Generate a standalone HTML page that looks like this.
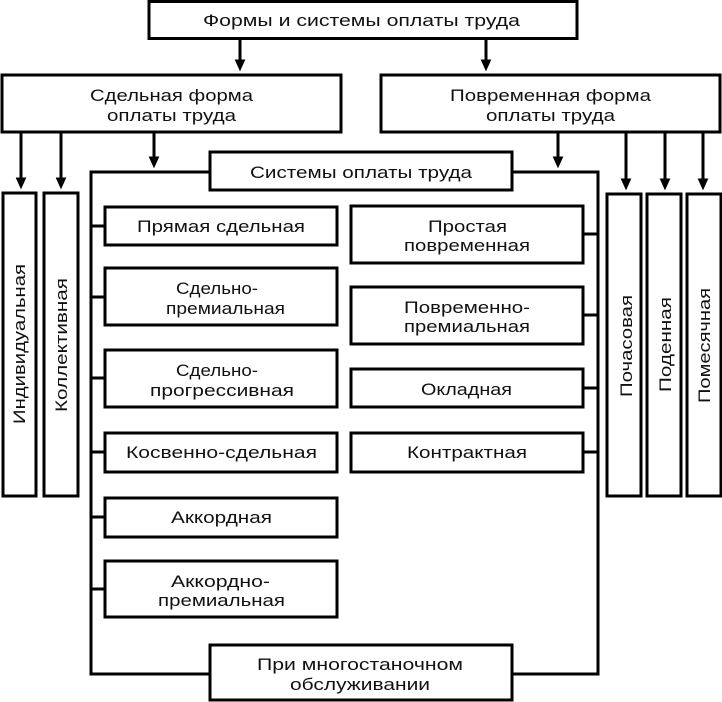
<!DOCTYPE html>
<html><head><meta charset="utf-8"><style>
html,body{margin:0;padding:0;background:#fff}
svg{display:block}
text{font-family:"Liberation Sans",sans-serif;font-size:17px;fill:#111}
</style></head><body>
<svg width="722" height="702" viewBox="0 0 722 702" xmlns="http://www.w3.org/2000/svg">
<defs>
<marker id="a" markerWidth="4" markerHeight="4" refX="2.2" refY="2" orient="auto" markerUnits="strokeWidth">
<path d="M0,0.2 L4,2 L0,3.8 z" fill="#000"/></marker>
</defs>
<g fill="none" stroke="#000" stroke-width="3">
<rect x="149" y="1.5" width="428" height="37"/>
<rect x="2" y="75" width="339" height="57"/>
<rect x="381" y="75" width="339" height="57"/>
<rect x="210" y="152" width="302" height="38"/>
<!-- container lines -->
<polyline points="210,172 91,172 91,674 210,674"/>
<polyline points="512,172 598,172 598,674 512,674"/>
<rect x="210" y="645" width="302" height="55"/>
<!-- vertical side boxes -->
<rect x="3" y="193" width="33" height="303"/>
<rect x="44" y="193" width="34" height="303"/>
<rect x="607" y="194" width="34" height="302"/>
<rect x="647" y="194" width="34" height="302"/>
<rect x="687" y="194" width="34" height="302"/>
<!-- left column -->
<rect x="105" y="207" width="232" height="38"/>
<rect x="105" y="268" width="232" height="57"/>
<rect x="105" y="350" width="232" height="57"/>
<rect x="105" y="433" width="232" height="39"/>
<rect x="105" y="498" width="232" height="39"/>
<rect x="105" y="561" width="232" height="56"/>
<!-- right column -->
<rect x="351" y="206" width="232" height="57"/>
<rect x="351" y="287" width="232" height="57"/>
<rect x="351" y="369" width="232" height="38"/>
<rect x="351" y="433" width="232" height="39"/>
<!-- stubs -->
<path d="M91,226H105M91,297H105M91,378H105M91,452H105M91,517H105M91,589H105"/>
<path d="M583,234H598M583,315H598M583,388H598M583,452H598"/>
</g>
<g stroke="#000" stroke-width="3" marker-end="url(#a)">
<line x1="240" y1="38" x2="240" y2="66"/>
<line x1="486" y1="38" x2="486" y2="66"/>
<line x1="21" y1="132" x2="21" y2="184"/>
<line x1="61" y1="132" x2="61" y2="184"/>
<line x1="154" y1="132" x2="154" y2="163"/>
<line x1="558" y1="132" x2="558" y2="163"/>
<line x1="626" y1="132" x2="626" y2="185"/>
<line x1="665" y1="132" x2="665" y2="185"/>
<line x1="703" y1="132" x2="703" y2="185"/>
</g>
<g lengthAdjust="spacingAndGlyphs">
<text x="203" y="26" textLength="317" lengthAdjust="spacingAndGlyphs">Формы и системы оплаты труда</text>
<text x="90" y="101" textLength="163" lengthAdjust="spacingAndGlyphs">Сдельная форма</text>
<text x="107" y="121" textLength="129" lengthAdjust="spacingAndGlyphs">оплаты труда</text>
<text x="450" y="101" textLength="201" lengthAdjust="spacingAndGlyphs">Повременная форма</text>
<text x="486" y="121" textLength="129" lengthAdjust="spacingAndGlyphs">оплаты труда</text>
<text x="250" y="178" textLength="222" lengthAdjust="spacingAndGlyphs">Системы оплаты труда</text>
<text x="137" y="232" textLength="168" lengthAdjust="spacingAndGlyphs">Прямая сдельная</text>
<text x="176" y="294" textLength="82" lengthAdjust="spacingAndGlyphs">Сдельно-</text>
<text x="166" y="314" textLength="119" lengthAdjust="spacingAndGlyphs">премиальная</text>
<text x="176" y="376" textLength="82" lengthAdjust="spacingAndGlyphs">Сдельно-</text>
<text x="150" y="396" textLength="144" lengthAdjust="spacingAndGlyphs">прогрессивная</text>
<text x="126" y="458" textLength="191" lengthAdjust="spacingAndGlyphs">Косвенно-сдельная</text>
<text x="171" y="523" textLength="101" lengthAdjust="spacingAndGlyphs">Аккордная</text>
<text x="171" y="587" textLength="99" lengthAdjust="spacingAndGlyphs">Аккордно-</text>
<text x="158" y="606" textLength="127" lengthAdjust="spacingAndGlyphs">премиальная</text>
<text x="428" y="232" textLength="79" lengthAdjust="spacingAndGlyphs">Простая</text>
<text x="404" y="251" textLength="126" lengthAdjust="spacingAndGlyphs">повременная</text>
<text x="404" y="313" textLength="126" lengthAdjust="spacingAndGlyphs">Повременно-</text>
<text x="404" y="332" textLength="126" lengthAdjust="spacingAndGlyphs">премиальная</text>
<text x="421" y="395" textLength="91" lengthAdjust="spacingAndGlyphs">Окладная</text>
<text x="407" y="458" textLength="120" lengthAdjust="spacingAndGlyphs">Контрактная</text>
<text x="257" y="670" textLength="206" lengthAdjust="spacingAndGlyphs">При многостаночном</text>
<text x="290" y="690" textLength="140" lengthAdjust="spacingAndGlyphs">обслуживании</text>
<text transform="translate(25,424) rotate(-90)" textLength="160" lengthAdjust="spacingAndGlyphs">Индивидуальная</text>
<text transform="translate(67,412) rotate(-90)" textLength="134" lengthAdjust="spacingAndGlyphs">Коллективная</text>
<text transform="translate(632,397) rotate(-90)" textLength="102" lengthAdjust="spacingAndGlyphs">Почасовая</text>
<text transform="translate(671,392) rotate(-90)" textLength="95" lengthAdjust="spacingAndGlyphs">Поденная</text>
<text transform="translate(710,403) rotate(-90)" textLength="115" lengthAdjust="spacingAndGlyphs">Помесячная</text>
</g>
</svg>
</body></html>
